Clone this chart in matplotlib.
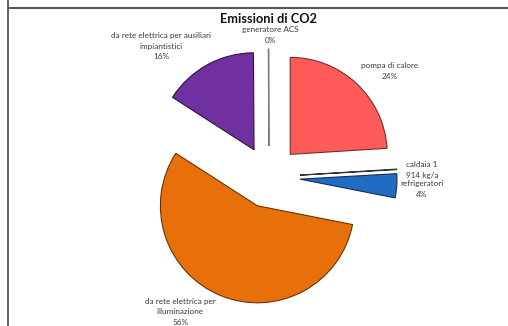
import matplotlib
matplotlib.use("Agg")
import matplotlib.pyplot as plt
from matplotlib.lines import Line2D

# ---- data ----
categories = ["pompa di calore", "caldaia 1", "refrigeratori",
              "da rete elettrica per\nilluminazione",
              "da rete elettrica per ausiliari\nimpiantistici",
              "generatore ACS"]
values = [24.0, 0.1, 4.0, 56.0, 15.8, 0.1]
pct_labels = ["24%", "914 kg/a", "4%", "56%", "16%", "0%"]
title = "Emissioni di CO2"

colors = ["#FF5B5B", "#C0C0C0", "#1F6CC2", "#E8700A", "#7030A0", "#BFBFBF"]
edges = ["#7A2A2A", "#333333", "#1A2E55", "#6B3300", "#2E1345", "#777777"]

W, H = 508, 326
R = 97.0            # pie radius in px
CX, CY = 269, 177   # pie centre in px (from top-left)

fig = plt.figure(figsize=(W / 100, H / 100), dpi=100)
fig.patch.set_facecolor("white")
ax = fig.add_axes([0, 0, 1, 1])

wedges, _ = ax.pie(values, colors=colors, startangle=90, counterclock=False,
                   explode=[0.32] * len(values), radius=1.0, center=(0, 0),
                   wedgeprops=dict(linewidth=0.8))
for w, ec in zip(wedges, edges):
    w.set_edgecolor(ec)
ax.set_aspect("auto")
ax.set_xlim(-CX / R, (W - CX) / R)
ax.set_ylim(-(H - CY) / R, CY / R)
ax.axis("off")

def px(x, y):
    return (x - CX) / R, (CY - y) / R

font = ["Lato", "DejaVu Sans"]
fs = 5.9
col = "#3A3A3A"
# label placements (px) per category
label_pos = [(390, 71), (422, 170), (422, 189), (180, 312), (161, 46), (270, 35)]
for i, (cat, pl) in enumerate(zip(categories, pct_labels)):
    x, y = px(*label_pos[i])
    ax.text(x, y, cat + "\n" + pl, ha="center", va="center", fontsize=fs,
            family=font, color=col, linespacing=1.55)

tx, ty = px(269, 19)
ax.text(tx, ty, title, ha="center", va="center", fontsize=9.2,
        fontweight="bold", family=font, color="#111111")

# frame lines
fig.add_artist(Line2D([7.5 / W, 7.5 / W], [0, 1], color="#555555", lw=1.3,
                      transform=fig.transFigure))
fig.add_artist(Line2D([7.5 / W, 1], [1 - 8 / H, 1 - 8 / H], color="#555555",
                      lw=1.5, transform=fig.transFigure))

fig.savefig("out.png", dpi=100, facecolor="white")
